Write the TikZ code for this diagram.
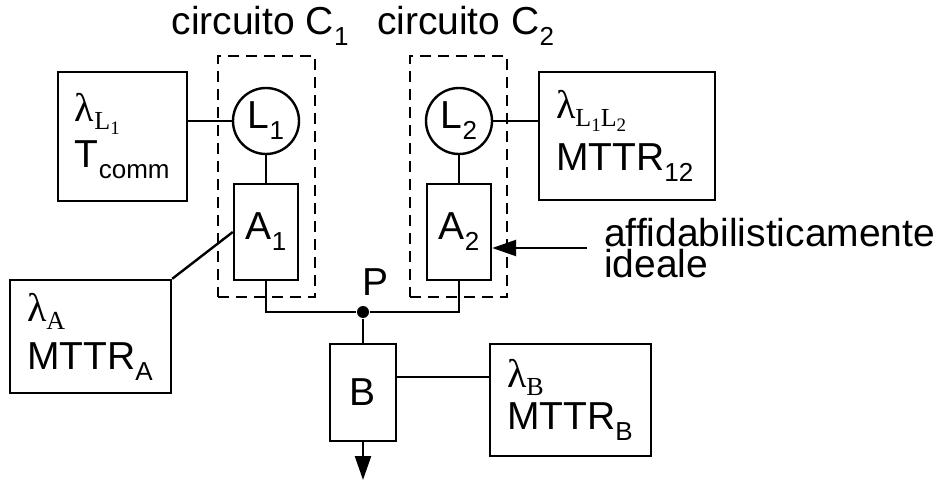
\documentclass[tikz,border=0pt]{standalone}
\usepackage{fontspec}
\setmainfont{Liberation Sans}
\newfontfamily\serf{Liberation Serif}
\usepackage{tikz}
\usetikzlibrary{arrows.meta, positioning}

% subscripts and failure-rate symbol
\newcommand{\ssub}[1]{\raisebox{-5.5pt}{\fontsize{13}{13}\selectfont #1}}
\newcommand{\lsub}[1]{\raisebox{-4pt}{\fontsize{13}{13}\selectfont #1}}
\newcommand{\llsub}[1]{\raisebox{-2.5pt}{\fontsize{9.5}{9.5}\selectfont #1}}
\newcommand{\lam}[1]{{\serf\fontsize{20}{23}\selectfont λ\lsub{#1}}}

\begin{document}
\begin{tikzpicture}[
    x=0.5pt, y=-0.5pt,
    >={Triangle[length=12pt, width=8pt]},
    font=\fontsize{19.5}{23}\selectfont,
    line width=1.2pt,
    % --- node styles ---
    blocknode/.style={draw, line width=1.2pt, minimum width=#1,
        minimum height=48pt, inner sep=0pt},
    blocknode/.default=32pt,
    linknode/.style={draw, circle, line width=1.2pt, minimum size=33pt,
        inner sep=0pt},
    parnode/.style={draw, line width=1.2pt, align=left, inner xsep=8.5pt,
        inner ysep=0pt, text width=#1},
    groupbox/.style={draw, dash pattern=on 5.5pt off 3.5pt, line width=1.2pt,
        minimum width=48.5pt, minimum height=120.5pt, inner sep=0pt},
    lbl/.style={inner sep=0pt},
    dot/.style={circle, fill, inner sep=0pt, minimum size=6pt},
]
\useasboundingbox (0,0) rectangle (944,481);

% ---- Circuits C1 and C2 ----
\node[groupbox] (C1) at (266.5,176.5) {};
\node[groupbox] (C2) at (458.5,176.5) {};
\node[lbl, above=4pt of C1, xshift=-3.25pt] (C1lbl) {circuito C\ssub{1}};
\node[lbl, above=4pt of C2, xshift=3.5pt] (C2lbl) {circuito C\ssub{2}};

\node[linknode] (L1) at (266,121) {L\ssub{1}};
\node[linknode] (L2) at (459,121) {L\ssub{2}};
\node[blocknode] (A1) at (266,232) {A\ssub{1}};
\node[blocknode] (A2) at (459,232) {A\ssub{2}};

% ---- Junction and common block ----
\node[dot] (P) at (363,312) {};
\node[lbl, anchor=base] (Plbl) at (376,296) {P};
\node[blocknode=33pt, minimum height=48.5pt] (B) at (363,392.5) {B};
\coordinate (out) at (363,480);

% ---- Reliability parameters ----
\node[parnode=47.5pt, minimum height=64.5pt] (lamL1) at (122.5,136.5)
    {\lam{L\llsub{1}}\\T\ssub{comm}};
\node[parnode=71pt, minimum height=64pt] (lamL12) at (627,136)
    {\lam{L\llsub{1}L\llsub{2}}\\[3pt]MTTR\ssub{12}};
\node[parnode=63.5pt, minimum height=56.5pt] (lamA) at (90.5,336.5)
    {\lam{A}\\[1pt]MTTR\ssub{A}};
\node[parnode=63.5pt, minimum height=56pt] (lamB) at (570.5,400)
    {\lam{B}\\[-2pt]MTTR\ssub{B}};

\node[lbl, anchor=west, inner xsep=8pt, align=left] (ideal) at (587,248)
    {affidabilisticamente\\[-7.5pt]ideale};

% ---- Connections ----
\draw (L1.west) -- (L1.west -| lamL1.east);
\draw (L2.east) -- (L2.east -| lamL12.west);
\draw (L1) -- (A1);
\draw (L2) -- (A2);
\draw (lamA.north east) -- (A1.west);
\draw (A1.south) |- (P) -| (A2.south);
\draw (P) -- (B);
\coordinate (Bout) at ([yshift=7.75pt]B.east);
\draw (Bout) -- (Bout -| lamB.west);
\draw[->] (B.south) -- (out);
\draw[->] (ideal.west) -- (ideal.west -| A2.east);

\end{tikzpicture}
\end{document}
